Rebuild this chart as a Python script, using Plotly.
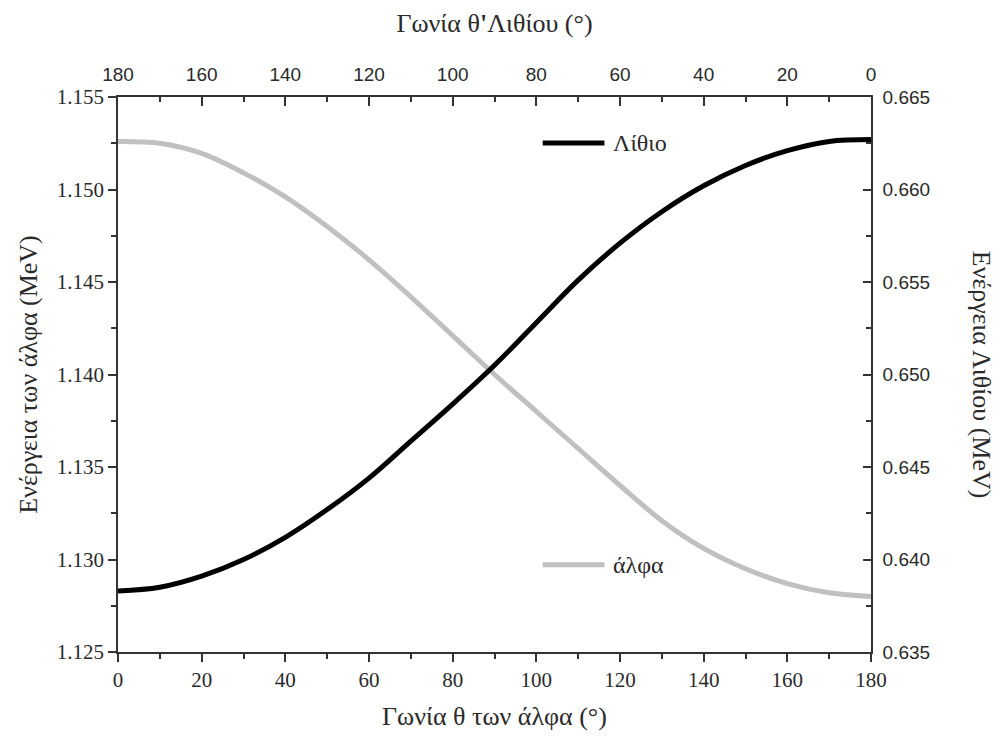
import plotly.graph_objects as go

# Angles of the alpha particle (degrees), bottom axis
theta_alpha = [0, 10, 20, 30, 40, 50, 60, 70, 80, 90, 100, 110, 120, 130, 140, 150, 160, 170, 180]

# Alpha energy (MeV), left axis
E_alpha = [1.1526, 1.1525, 1.15195, 1.1509, 1.1496, 1.1480, 1.1462, 1.1442, 1.1421, 1.1400,
           1.1380, 1.1360, 1.1340, 1.1321, 1.1306, 1.1295, 1.1287, 1.1282, 1.1280]

# Lithium energy (MeV), right axis
E_lith = [0.6383, 0.6385, 0.6391, 0.6400, 0.6412, 0.6427, 0.6444, 0.6464, 0.6484, 0.6505,
          0.6528, 0.6551, 0.6571, 0.6588, 0.6602, 0.6613, 0.6621, 0.6626, 0.6627]

# Lithium angle (degrees), top axis tick labels
top_ticks = [180, 160, 140, 120, 100, 80, 60, 40, 20, 0]

series_names = ["Λίθιο", "άλφα"]
series_colors = ["black", "#c0c0c0"]

SERIF = "Liberation Serif, DejaVu Serif, Times New Roman, serif"
SANS = "Liberation Sans, Arial, sans-serif"
AX = "#333333"
TXT = "#2a2a2a"

fig = go.Figure()
fig.add_trace(go.Scatter(x=theta_alpha, y=E_lith, mode="lines", name=series_names[0],
                         line=dict(color=series_colors[0], width=5, shape="spline"),
                         yaxis="y2", showlegend=False))
fig.add_trace(go.Scatter(x=theta_alpha, y=E_alpha, mode="lines", name=series_names[1],
                         line=dict(color=series_colors[1], width=5, shape="spline"),
                         showlegend=False))
# empty trace so that the top (lithium angle) axis is drawn
fig.add_trace(go.Scatter(x=[], y=[], xaxis="x2", yaxis="y", showlegend=False, hoverinfo="skip"))

# legend keys (drawn in paper coordinates, placed as in the original)
legend_y = [0.917, 0.157]
shapes = []
annotations = []
for name, col, ly in zip(series_names, series_colors, legend_y):
    shapes.append(dict(type="line", xref="paper", yref="paper", x0=0.564, x1=0.646, y0=ly, y1=ly,
                       line=dict(color=col, width=5)))
    annotations.append(dict(text=name, xref="paper", yref="paper", x=0.655, y=ly,
                            xanchor="left", yanchor="middle", showarrow=False,
                            font=dict(family=SERIF, size=24, color=TXT)))

annotations.append(dict(text="Ενέργεια Λιθίου (MeV)", xref="paper", yref="paper",
                        x=1.147, y=0.5, xanchor="center", yanchor="middle",
                        showarrow=False, textangle=90,
                        font=dict(family=SERIF, size=26, color=TXT)))

fig.update_layout(
    width=1003, height=738,
    paper_bgcolor="white", plot_bgcolor="white",
    margin=dict(l=110, r=140, t=89, b=94),
    showlegend=False,
    font=dict(family=SERIF, color=TXT),
    xaxis=dict(range=[0, 180], dtick=20, tick0=0, showgrid=False, zeroline=False,
               showline=True, linecolor=AX, linewidth=1.5,
               ticks="outside", ticklen=8, tickcolor=AX, tickwidth=1.5,
               minor=dict(dtick=10, ticks="outside", ticklen=5, tickcolor=AX, tickwidth=1.5),
               tickfont=dict(family=SERIF, size=21, color=TXT),
               title=dict(text="Γωνία θ των άλφα (°)", font=dict(family=SERIF, size=26, color=TXT),
                          standoff=16)),
    xaxis2=dict(overlaying="x", side="top", anchor="y", range=[180, 0], tickvals=top_ticks,
                showgrid=False, zeroline=False, showline=True, linecolor=AX, linewidth=1.5,
                ticks="inside", ticklen=9, tickcolor=AX, tickwidth=1.5, ticklabelstandoff=7,
                minor=dict(dtick=10, ticks="inside", ticklen=5, tickcolor=AX, tickwidth=1.5),
                tickfont=dict(family=SANS, size=19, color=TXT),
                title=dict(text="Γωνία θ<b>'</b>Λιθίου (°)", font=dict(family=SERIF, size=26, color=TXT),
                           standoff=24)),
    yaxis=dict(range=[1.125, 1.155], dtick=0.005, tick0=1.125, tickformat=".3f",
               showgrid=False, zeroline=False, showline=True, linecolor=AX, linewidth=1.5,
               ticks="outside", ticklen=8, tickcolor=AX, tickwidth=1.5,
               minor=dict(dtick=0.0025, ticks="outside", ticklen=5, tickcolor=AX, tickwidth=1.5),
               tickfont=dict(family=SERIF, size=21, color=TXT),
               title=dict(text="Ενέργεια των άλφα (MeV)", font=dict(family=SERIF, size=26, color=TXT),
                          standoff=12)),
    yaxis2=dict(overlaying="y", side="right", anchor="x", range=[0.635, 0.665], dtick=0.005, tick0=0.635,
                tickformat=".3f", showgrid=False, zeroline=False, showline=True,
                linecolor=AX, linewidth=1.5,
                ticks="inside", ticklen=8, tickcolor=AX, tickwidth=1.5, ticklabelstandoff=6,
                minor=dict(dtick=0.0025, ticks="inside", ticklen=5, tickcolor=AX, tickwidth=1.5),
                tickfont=dict(family=SANS, size=19, color=TXT)),
    shapes=shapes,
    annotations=annotations,
)

fig.write_html("out.html")
